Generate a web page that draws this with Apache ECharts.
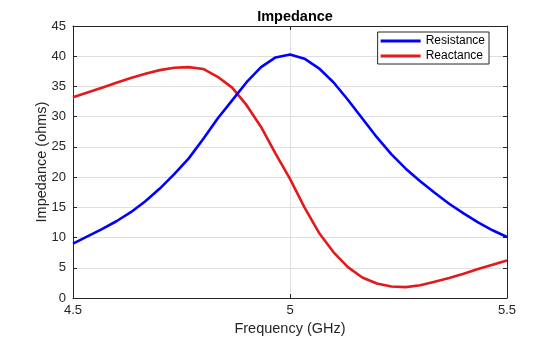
<!DOCTYPE html>
<html>
<head>
<meta charset="utf-8">
<script src="https://cdn.jsdelivr.net/npm/echarts@6/dist/echarts.min.js"></script>
<style>html,body{margin:0;padding:0;background:#fff}#c{width:560px;height:337px}</style>
</head>
<body>
<div id="c"></div>
<script>
var freq = [4.5, 4.5333, 4.5667, 4.6, 4.6333, 4.6667, 4.7, 4.7333, 4.7667, 4.8, 4.8333,
  4.8667, 4.9, 4.9333, 4.9667, 5.0, 5.0333, 5.0667, 5.1, 5.1333, 5.1667,
  5.2, 5.2333, 5.2667, 5.3, 5.3333, 5.3667, 5.4, 5.4333, 5.4667, 5.5];
var resistance = [9.0, 10.2, 11.4, 12.7, 14.2, 16.0, 18.1, 20.5, 23.1, 26.3, 29.7,
  32.7, 35.7, 38.2, 39.8, 40.3, 39.6, 38.0, 35.7, 32.8, 29.7,
  26.6, 23.8, 21.4, 19.3, 17.4, 15.6, 14.0, 12.5, 11.2, 10.1];
var reactance = [33.2, 34.0, 34.8, 35.6, 36.4, 37.1, 37.7, 38.1, 38.2, 37.9, 36.6,
  34.8, 31.9, 28.3, 23.9, 19.7, 15.0, 10.8, 7.6, 5.1, 3.4,
  2.4, 1.9, 1.8, 2.1, 2.7, 3.3, 4.0, 4.8, 5.5, 6.2];
var xTicks = [4.5, 5, 5.5];
var yTicks = [0, 5, 10, 15, 20, 25, 30, 35, 40, 45];

function pairs(ys){ return freq.map(function(f,i){ return [f, ys[i]]; }); }

var font = 'Liberation Sans, Arial, Helvetica, sans-serif';
var chart = echarts.init(document.getElementById('c'), null, {renderer:'canvas'});
var axisLineStyle = {color:'#262626', width:1};
chart.setOption({
  animation:false,
  backgroundColor:'#fff',
  title:{text:'Impedance', left:290, top:4, textAlign:'center',
    textStyle:{fontFamily:font, fontSize:14.5, fontWeight:'bold', color:'#000'}},
  grid:{left:73, right:53, top:26, bottom:39, containLabel:false, outerBoundsMode:'none'},
  legend:{
    orient:'vertical', right:71, top:32,
    backgroundColor:'#fff', borderColor:'#262626', borderWidth:1,
    padding:[2,4,1,3], itemGap:1, itemWidth:40, itemHeight:3, icon:'rect',
    textStyle:{fontFamily:font, fontSize:12, color:'#000', lineHeight:14},
    data:['Resistance','Reactance']
  },
  xAxis:[{
    type:'value', min:4.5, max:5.5, interval:0.5,
    name:'Frequency (GHz)', nameLocation:'middle', nameGap:23, nameMoveOverlap:false,
    nameTextStyle:{fontFamily:font, fontSize:14.5, color:'#262626'},
    axisLine:{show:true, onZero:false, lineStyle:axisLineStyle},
    axisTick:{show:true, inside:true, length:4, lineStyle:axisLineStyle},
    axisLabel:{fontFamily:font, fontSize:13, color:'#262626', margin:6,
      formatter:function(v){ return xTicks.indexOf(v)>=0 ? String(v) : ''; }},
    splitLine:{show:true, lineStyle:{color:'#dfdfdf', width:1}}
  },{
    type:'value', position:'top', min:4.5, max:5.5, interval:0.5,
    axisLine:{show:true, onZero:false, lineStyle:axisLineStyle},
    axisTick:{show:true, inside:true, length:4, lineStyle:axisLineStyle},
    axisLabel:{show:false}, splitLine:{show:false}
  }],
  yAxis:[{
    type:'value', min:0, max:45, interval:5,
    name:'Impedance (ohms)', nameLocation:'middle', nameGap:24, nameMoveOverlap:false,
    nameTextStyle:{fontFamily:font, fontSize:14.5, color:'#262626'},
    axisLine:{show:true, onZero:false, lineStyle:axisLineStyle},
    axisTick:{show:true, inside:true, length:4, lineStyle:axisLineStyle},
    axisLabel:{fontFamily:font, fontSize:13, color:'#262626', margin:7,
      formatter:function(v){ return yTicks.indexOf(v)>=0 ? String(v) : ''; }},
    splitLine:{show:true, lineStyle:{color:'#dfdfdf', width:1}}
  },{
    type:'value', position:'right', min:0, max:45, interval:5,
    axisLine:{show:true, onZero:false, lineStyle:axisLineStyle},
    axisTick:{show:true, inside:true, length:4, lineStyle:axisLineStyle},
    axisLabel:{show:false}, splitLine:{show:false}
  }],
  series:[
    {name:'Resistance', type:'line', data:pairs(resistance), symbol:'none',
      lineStyle:{color:'#0000ff', width:2.6}, itemStyle:{color:'#0000ff'}, z:3},
    {name:'Reactance', type:'line', data:pairs(reactance), symbol:'none',
      lineStyle:{color:'#e3191b', width:2.6}, itemStyle:{color:'#e3191b'}, z:2}
  ]
});
</script>
</body>
</html>
